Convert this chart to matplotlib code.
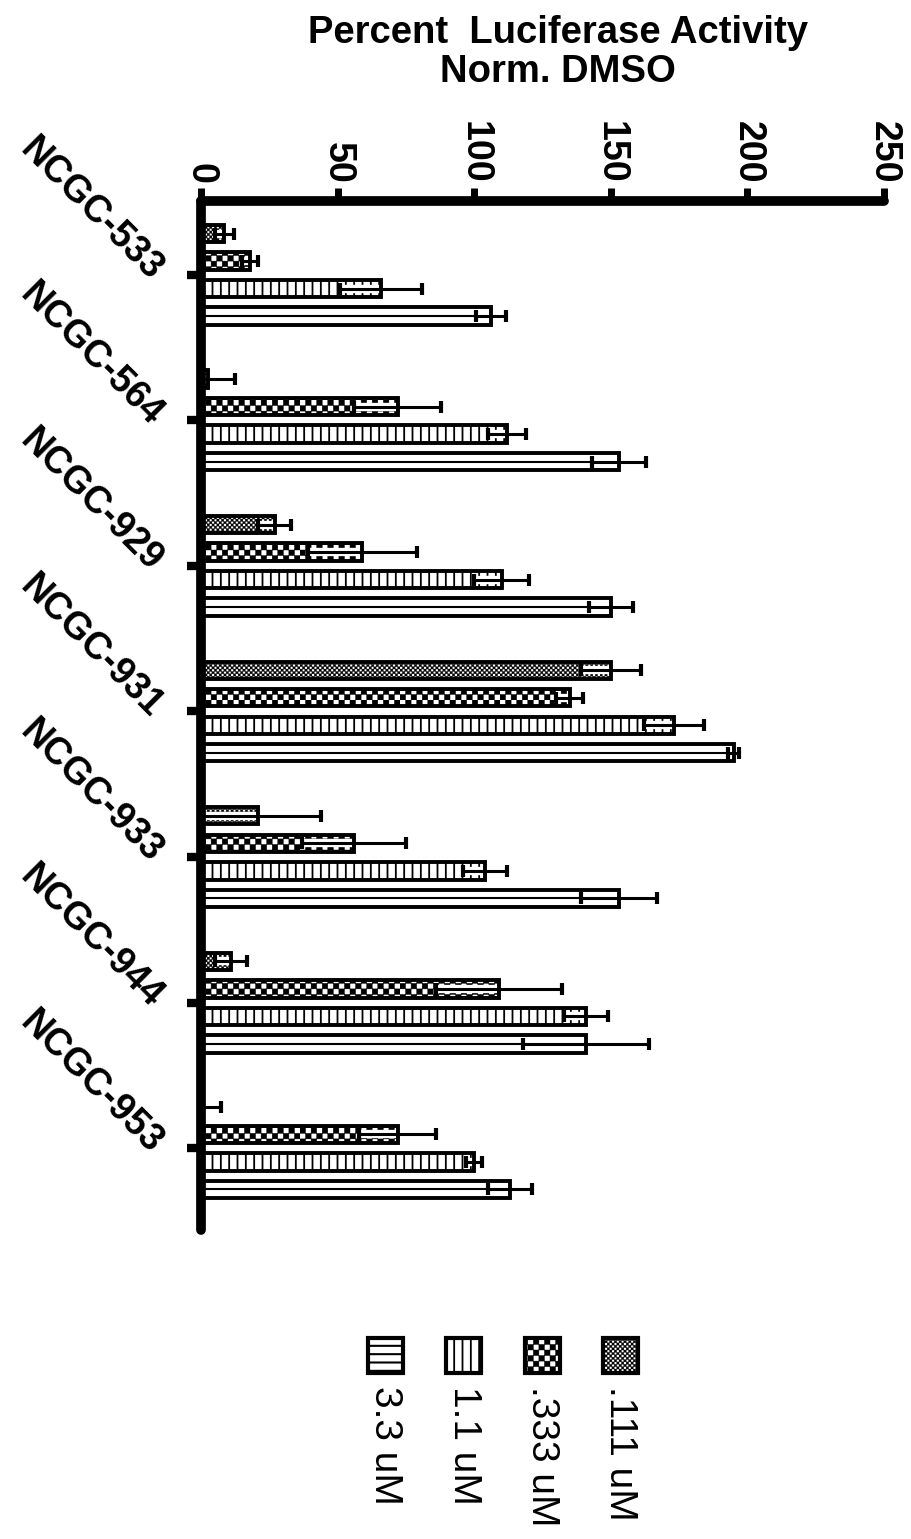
import matplotlib
matplotlib.use("Agg")
import matplotlib.pyplot as plt
import matplotlib.hatch as mhatch
from matplotlib.path import Path
import numpy as np
from matplotlib.patches import Rectangle

plt.rcParams['font.family'] = ['Liberation Sans', 'DejaVu Sans']
plt.rcParams['hatch.color'] = 'black'
plt.rcParams['hatch.linewidth'] = 1.3


# checkerboard hatch bound to the '*' character
class CheckerHatch(mhatch.HatchPatternBase):
    def __init__(self, hatch, density):
        self.n = 2 * hatch.count('*') * int(density) // 2
        if self.n % 2:
            self.n += 1
        if hatch.count('*') == 0:
            self.n = 0
        self.num_vertices = (self.n * self.n // 2) * 5 if self.n else 0

    def set_vertices_and_codes(self, vertices, codes):
        n = self.n
        s = 1.0 / n
        cells = [(i, j) for i in range(n) for j in range(n) if (i + j) % 2 == 0]
        sq = np.array([[0, 0], [1, 0], [1, 1], [0, 1], [0, 0]], float) * s
        sc = [Path.MOVETO, Path.LINETO, Path.LINETO, Path.LINETO, Path.CLOSEPOLY]
        for k, (i, j) in enumerate(cells):
            vertices[5 * k:5 * k + 5] = sq + [i * s, j * s]
            codes[5 * k:5 * k + 5] = sc


mhatch._hatch_types[:] = [c for c in mhatch._hatch_types if c is not mhatch.Stars] + [CheckerHatch]

# ---- data ----
categories = ['NCGC-533', 'NCGC-564', 'NCGC-929', 'NCGC-931', 'NCGC-933', 'NCGC-944', 'NCGC-953']
series_labels = ['.111 uM', '.333 uM', '1.1 uM', '3.3 uM']  # top to bottom within group
mean_111 = [8.5, 2.5, 27, 150, 21, 11, 0.5]
err_111 = [3.5, 10, 6, 11, 23, 6, 7]
mean_333 = [18, 72, 59, 135, 56, 109, 72]
err_333 = [3, 16, 20, 5, 19, 23, 14]
mean_11 = [66, 112, 110, 173, 104, 141, 100]
err_11 = [15, 7, 10, 11, 8, 8, 3]
mean_33 = [106, 153, 150, 195, 153, 141, 113]
err_33 = [5.5, 10, 8, 2, 14, 23, 8]
xticks = [0, 50, 100, 150, 200, 250]
title_lines = ['Percent  Luciferase Activity', 'Norm. DMSO']
legend_order = ['3.3 uM', '1.1 uM', '.333 uM', '.111 uM']

means = [mean_111, mean_333, mean_11, mean_33]
errs = [err_111, err_333, err_11, err_33]
hatches = {'.111 uM': '*******', '.333 uM': '***', '1.1 uM': '||', '3.3 uM': ''}
legend_hatches = {'.111 uM': '*******', '.333 uM': '***', '1.1 uM': '||', '3.3 uM': '--'}
hatch_lw = {'.111 uM': 0.2, '.333 uM': 0.3, '1.1 uM': 1.3, '3.3 uM': 1.5}


def set_hlw(patch, lw):
    try:
        patch.set_hatch_linewidth(lw)
    except Exception:
        pass


W, H = 911, 1539
fig = plt.figure(figsize=(W / 100, H / 100), dpi=100)
fig.patch.set_facecolor('white')

x0, x1, ytop, ybot = 201, 884, 201, 1230
ax = fig.add_axes([x0 / W, 1 - ybot / H, (x1 - x0) / W, (ybot - ytop) / H])

step = 0.189
bh = 0.12
ypos = np.arange(len(categories))
for j, lab in enumerate(series_labels):
    yy = ypos + (j - 1.5) * step
    plt.rcParams['hatch.linewidth'] = hatch_lw[lab]
    bars = ax.barh(yy, means[j], height=bh, facecolor='white', edgecolor='black',
                   linewidth=0, hatch=hatches[lab], zorder=2)
    for b in bars:
        set_hlw(b, hatch_lw[lab])
    if lab == '3.3 uM':
        ax.hlines(yy, 0, means[j], color='black', linewidth=1.5, zorder=2.1)
    # white halo of the error bar inside the bar
    ax.errorbar(means[j], yy, xerr=errs[j], fmt='none', ecolor='white',
                elinewidth=6, capsize=0, zorder=2.3)
    # bar outlines
    ax.barh(yy, means[j], height=bh, fill=False, edgecolor='black',
            linewidth=2.8, zorder=2.5)
    ax.errorbar(means[j], yy, xerr=errs[j], fmt='none', ecolor='black',
                elinewidth=2.2, capsize=4.5, capthick=3, zorder=3)

ax.set_xlim(0, 250)
ax.set_ylim(len(categories) - 1 + 0.563, -0.508)

for s in ['right', 'bottom']:
    ax.spines[s].set_visible(False)
for s in ['top', 'left']:
    ax.spines[s].set_linewidth(7)
    ax.spines[s].set_capstyle('round')

ax.xaxis.tick_top()
ax.set_xticks(xticks)
ax.set_xticklabels([str(v) for v in xticks], rotation=-90, fontsize=27,
                   fontweight='bold')
ax.tick_params(axis='x', direction='out', length=9.5, width=5, pad=3)

ax.set_yticks(ypos)
ax.set_yticklabels(categories, fontsize=27, fontweight='bold', rotation=-45,
                   rotation_mode='anchor', ha='right', va='center')
ax.tick_params(axis='y', direction='out', length=10, width=6, pad=22)

# title
fig.text(558 / W, 1 - 33 / H, title_lines[0], ha='center', va='center',
         fontsize=27.5, fontweight='bold')
fig.text(558 / W, 1 - 72 / H, title_lines[1], ha='center', va='center',
         fontsize=27.5, fontweight='bold')

# legend
sq = 35
for k, lab in enumerate(legend_order):
    cx = 385 + k * 78.5
    plt.rcParams['hatch.linewidth'] = hatch_lw[lab]
    r = Rectangle(((cx - sq / 2) / W, 1 - 1373 / H), sq / W, sq / H,
                  transform=fig.transFigure, facecolor='white', edgecolor='black',
                  linewidth=3, hatch=legend_hatches[lab])
    set_hlw(r, hatch_lw[lab])
    fig.add_artist(r)
    fig.text(cx / W, 1 - 1386 / H, lab, rotation=-90, ha='center', va='top',
             fontsize=28)

fig.savefig('out.png', dpi=100, facecolor='white')
